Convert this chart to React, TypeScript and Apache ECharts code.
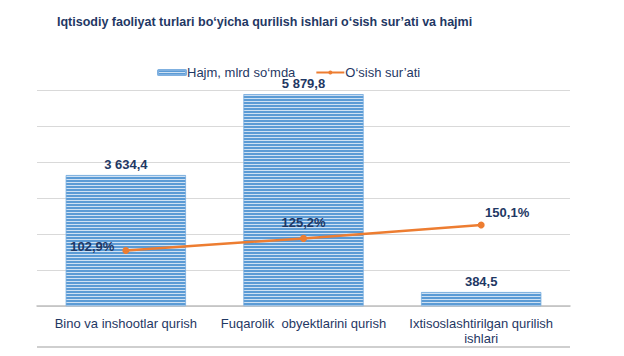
import React, { useEffect, useRef } from "react";
import * as echarts from "echarts";

const categories = [
  "Bino va inshootlar qurish",
  "Fuqarolik  obyektlarini qurish",
  "Ixtisoslashtirilgan qurilish\nishlari",
];
const volumeValues = [3634.4, 5879.8, 384.5];
const growthValues = [102.9, 125.2, 150.1];
const seriesNames = ["Hajm, mlrd so‘mda", "O‘sish sur’ati"];
const titleText = "Iqtisodiy faoliyat turlari bo‘yicha qurilish ishlari o‘sish sur’ati va hajmi";

const fmtVolume = (v: number) => {
  const [i, d] = v.toFixed(1).split(".");
  return i.replace(/\B(?=(\d{3})+(?!\d))/g, " ") + "," + d;
};
const fmtPct = (v: number) => v.toFixed(1).replace(".", ",") + "%";

const NAVY = "#1f3864";
const FONT = "'Liberation Sans', Arial, sans-serif";

export default function App() {
  const ref = useRef<HTMLDivElement>(null);
  useEffect(() => {
    const chart = echarts.init(ref.current!, null, { renderer: "svg" });
    const labelPos: any[] = [
      { position: "left", offset: [0, -4] },
      { position: "top", offset: [0, 2] },
      { position: "top", offset: [26, 6] },
    ];
    const decal = {
      symbol: "rect",
      symbolSize: 1,
      dashArrayX: [1, 0],
      dashArrayY: [1.5, 1],
      rotation: 0,
      color: "#5b9bd5",
    };
    chart.setOption({
      animation: false,
      textStyle: { fontFamily: FONT },
      title: {
        text: titleText,
        left: 52,
        top: 10,
        textStyle: { fontFamily: FONT, fontSize: 12.5, fontWeight: "bold", color: NAVY },
      },
      legend: {
        left: 152,
        top: 61,
        itemWidth: 28,
        itemHeight: 5,
        itemGap: 20,
        textStyle: { fontFamily: FONT, fontSize: 13, color: NAVY, padding: [0, 0, 0, -4] },
        data: [seriesNames[0], seriesNames[1]],
      },
      grid: { left: 37, right: 54, top: 90, bottom: 50 },
      xAxis: {
        type: "category",
        data: categories,
        axisTick: { show: false },
        axisLine: { lineStyle: { color: "#bfbfbf", width: 1.5 } },
        axisLabel: {
          fontFamily: FONT,
          fontSize: 13,
          color: NAVY,
          margin: 10,
          lineHeight: 15,
          interval: 0,
        },
      },
      yAxis: [
        {
          type: "value",
          min: 0,
          max: 6000,
          interval: 1000,
          axisLabel: { show: false },
          axisLine: { show: false },
          axisTick: { show: false },
          splitLine: { lineStyle: { color: "#d9d9d9", width: 1 } },
        },
        {
          type: "value",
          min: 0,
          max: 400,
          interval: 100,
          axisLabel: { show: false },
          axisLine: { show: false },
          axisTick: { show: false },
          splitLine: { show: false },
        },
      ],
      series: [
        {
          name: seriesNames[0],
          type: "bar",
          data: volumeValues,
          barWidth: 120,
          itemStyle: {
            color: "#cfe1f3",
            borderColor: "#7fb0e0",
            borderWidth: 0.5,
            decal,
          },
          label: {
            show: true,
            position: "top",
            distance: 4,
            formatter: (p: any) => fmtVolume(p.value),
            fontFamily: FONT,
            fontSize: 13,
            fontWeight: "bold",
            color: NAVY,
          },
        },
        {
          name: seriesNames[1],
          type: "line",
          yAxisIndex: 1,
          data: growthValues.map((v, i) => ({ value: v, label: labelPos[i] })),
          symbol: "circle",
          symbolSize: 7,
          lineStyle: { color: "#ed7d31", width: 2.5 },
          itemStyle: { color: "#ed7d31" },
          label: {
            show: true,
            formatter: (p: any) => fmtPct(p.value),
            fontFamily: FONT,
            fontSize: 13,
            fontWeight: "bold",
            color: NAVY,
            distance: 8,
          },
        },
      ],
      graphic: [
        {
          type: "line",
          shape: { x1: 37, y1: 347, x2: 570, y2: 347 },
          style: { stroke: "#bfbfbf", lineWidth: 1.5 },
        },
      ],
    });
    return () => chart.dispose();
  }, []);
  return <div ref={ref} style={{ width: 624, height: 356, margin: -8 }} />;
}
